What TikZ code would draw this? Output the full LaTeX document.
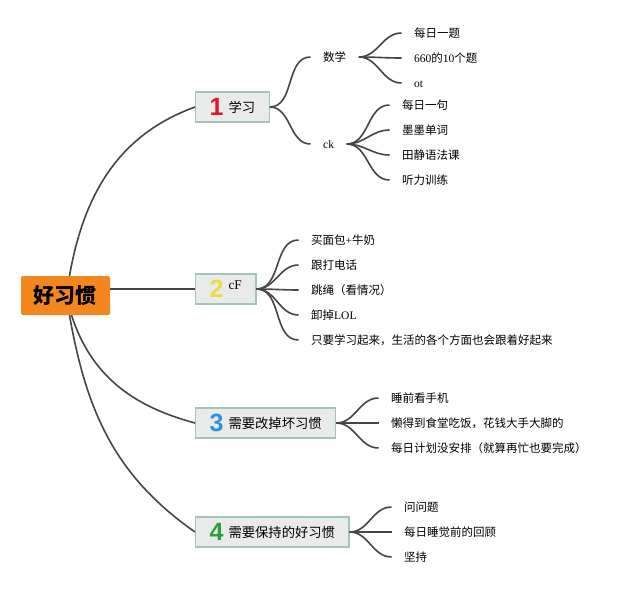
\documentclass[tikz,border=0pt]{standalone}
\usepackage{fontspec}
\setmainfont{Noto Sans CJK SC}
\newfontfamily\lat{Liberation Serif}
\newfontfamily\numfont{Liberation Sans}
\usetikzlibrary{positioning}
\definecolor{lnk}{HTML}{454545}
\definecolor{rootfill}{HTML}{F3861F}
\definecolor{boxfill}{HTML}{E9EBEA}
\definecolor{boxedge}{HTML}{A3C5B8}
\definecolor{one}{HTML}{E0172C}
\definecolor{two}{HTML}{F3D846}
\definecolor{three}{HTML}{2B93DC}
\definecolor{four}{HTML}{2E9F3B}
\newcommand{\badge}[2]{\raisebox{-3.5pt}{\numfont\bfseries\fontsize{25}{25}\selectfont\color{#1}#2}\hspace{5pt}}
\tikzset{
  root/.style={fill=rootfill, rounded corners=2pt, minimum width=89pt, minimum height=39pt,
    text height=17pt, text depth=1pt, font=\fontsize{21}{21}\selectfont\bfseries},
  topic/.style={draw=boxedge, fill=boxfill, line width=1.3pt, anchor=west, minimum height=30pt,
    inner xsep=14pt, text height=13.7pt, text depth=3.5pt, font=\fontsize{13.3}{13.3}\selectfont},
  sub/.style={anchor=west, inner xsep=12.5pt, inner ysep=0pt, text height=9pt, text depth=0.6pt,
    font=\fontsize{11.5}{11.5}\selectfont},
  branch/.style={draw=lnk, line width=1.6pt},
}
\begin{document}
\begin{tikzpicture}[x=1pt,y=-1pt]
\useasboundingbox (0,0) rectangle (640,591);

\node[root] (habit) at (65.5,295.5) {好习惯};
\node[topic] (study) at (195,107) {\badge{one}{1}学习};
\node[topic] (cf) at (195,289) {\badge{two}{2}\raisebox{5pt}{\lat cF}};
\node[topic] (bad) at (195,423) {\badge{three}{3}需要改掉坏习惯};
\node[topic] (good) at (195,532) {\badge{four}{4}需要保持的好习惯};

\draw[branch] ([xshift=4pt]habit.north) to[out=80,in=200] (study.west);
\draw[branch] (habit.east |- cf.west) -- (cf.west);
\draw[branch] ([xshift=6pt]habit.south) to[out=-72,in=165] (bad.west);
\draw[branch] ([xshift=4pt]habit.south) to[out=-80,in=145] (good.west);

% 1 study
\node[sub] (math) at (310.5,57) {数学};
\node[sub] (ck) at (310.5,144) {\lat ck};
\foreach \s in {math,ck} \draw[branch] (study.east) to[out=0,in=180] (\s.west);
\foreach \t [count=\i] in {每日一题,{\lat 660}的{\lat 10}个题,{\lat ot}}{
  \node[sub] (math\i) at (401.5,{8+25*\i}) {\t};
  \draw[branch] (math.east) to[out=0,in=180] (math\i.west);
}
\foreach \t [count=\i] in {每日一句,墨墨单词,田静语法课,听力训练}{
  \node[sub] (ck\i) at (389.5,{80+25*\i}) {\t};
  \draw[branch] (ck.east) to[out=0,in=180] (ck\i.west);
}

% 2 cF
\foreach \t [count=\i] in {买面包{\lat +}牛奶,跟打电话,跳绳（看情况）,卸掉{\lat LOL},只要学习起来，生活的各个方面也会跟着好起来}{
  \node[sub] (cf\i) at (298.5,{215+25*\i}) {\t};
  \draw[branch] (cf.east) to[out=0,in=180] (cf\i.west);
}

% 3 bad habits
\foreach \t [count=\i] in {睡前看手机,懒得到食堂吃饭，花钱大手大脚的,每日计划没安排（就算再忙也要完成）}{
  \node[sub] (bad\i) at (378.5,{373+25*\i}) {\t};
  \draw[branch] (bad.east) to[out=0,in=180] (bad\i.west);
}

% 4 good habits
\foreach \t [count=\i] in {问问题,每日睡觉前的回顾,坚持}{
  \node[sub] (good\i) at (391.5,{482+25*\i}) {\t};
  \draw[branch] (good.east) to[out=0,in=180] (good\i.west);
}
\end{tikzpicture}
\end{document}
